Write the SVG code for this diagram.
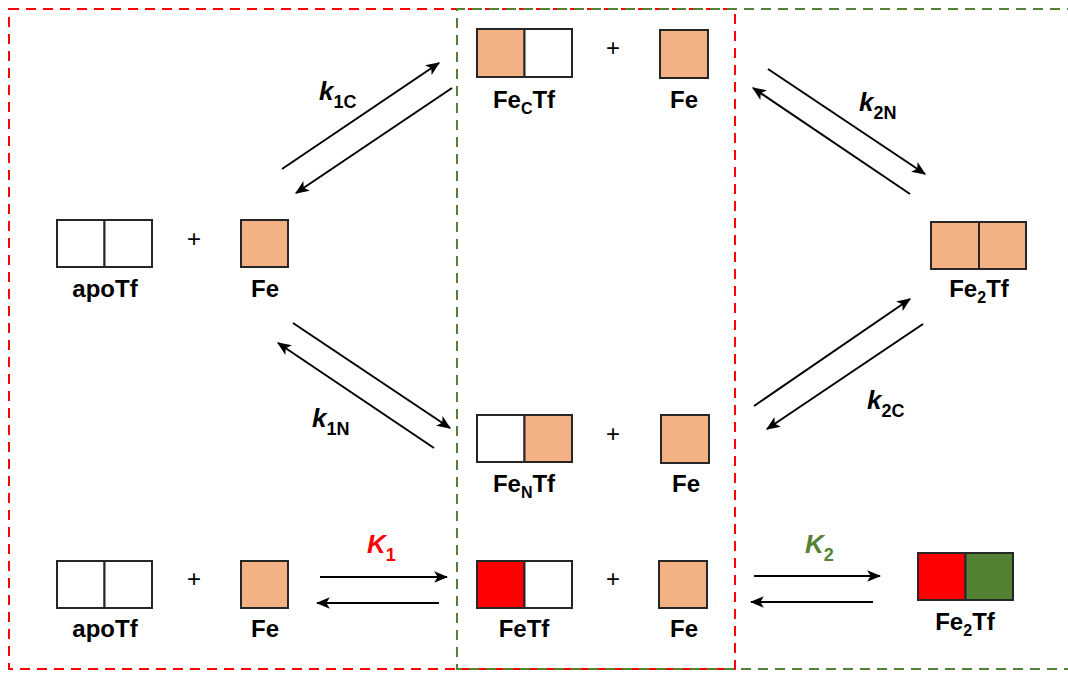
<svg xmlns="http://www.w3.org/2000/svg" width="1068" height="673" viewBox="0 0 1068 673">
<style>
.box{stroke:#262626;stroke-width:2;fill:#fff}
.or{fill:#F4B183}
.rd{fill:#FF0000}
.gr{fill:#548235}
.lbl{font-family:"Liberation Sans",Arial,sans-serif;font-weight:bold;font-size:24px;fill:#000;text-anchor:middle}
.sub{font-size:16px}
.plus{font-family:"Liberation Sans",Arial,sans-serif;font-size:24px;fill:#000;text-anchor:middle}
.k{font-family:"Liberation Sans",Arial,sans-serif;font-weight:bold;font-style:italic;font-size:26px}
.ks{font-style:normal;font-size:18px}
.arr{stroke:#000;stroke-width:2;fill:none;marker-end:url(#ah)}
</style>
<defs>
<marker id="ah" viewBox="0 0 12 10" refX="11" refY="5" markerWidth="7" markerHeight="6" orient="auto" markerUnits="strokeWidth">
<path d="M0,0 L12,5 L0,10 L3,5 z" fill="#000"/>
</marker>
</defs>
<g id="frames" fill="none" stroke-width="2">
<rect id="red-frame" x="9" y="9" width="726" height="660" stroke="#FF0000" stroke-dasharray="10,7"/>
<path id="green-frame" d="M1072,9 H457 V669 H1072" stroke="#548235" stroke-dasharray="10,7" stroke-dashoffset="5"/>
</g>
<g id="connectors">
<line class="arr" x1="282" y1="169" x2="439" y2="63"/>
<line class="arr" x1="452" y1="88" x2="296" y2="193"/>
<line class="arr" x1="768" y1="69" x2="925" y2="174"/>
<line class="arr" x1="910" y1="194" x2="753" y2="88"/>
<line class="arr" x1="293" y1="323" x2="450" y2="428"/>
<line class="arr" x1="434" y1="448" x2="278" y2="343"/>
<line class="arr" x1="754" y1="406" x2="910" y2="299"/>
<line class="arr" x1="923" y1="324" x2="767" y2="429"/>
<line class="arr" x1="320" y1="577" x2="447" y2="577"/>
<line class="arr" x1="439" y1="603" x2="317" y2="603"/>
<line class="arr" x1="754" y1="576" x2="880" y2="576"/>
<line class="arr" x1="873" y1="602" x2="751" y2="602"/>
<text class="k" x="319" y="100">k<tspan class="ks" dy="8">1C</tspan></text>
<text class="k" x="859" y="111">k<tspan class="ks" dy="8">2N</tspan></text>
<text class="k" x="312" y="427">k<tspan class="ks" dy="8">1N</tspan></text>
<text class="k" x="867" y="409">k<tspan class="ks" dy="8">2C</tspan></text>
<text class="k" x="367" y="553" fill="#FF0000">K<tspan class="ks" dy="8">1</tspan></text>
<text class="k" x="805" y="553" fill="#548235">K<tspan class="ks" dy="8">2</tspan></text>
</g>
<g id="apoTf-top">
<rect class="box" x="57" y="220" width="47.5" height="47"/>
<rect class="box" x="104.5" y="220" width="47.5" height="47"/>
<text class="lbl" x="105" y="297">apoTf</text>
</g>
<text class="plus" x="194" y="247">+</text>
<g id="Fe-left-top">
<rect class="box or" x="241" y="220" width="47" height="47"/>
<text class="lbl" x="265" y="297">Fe</text>
</g>
<g id="FeCTf">
<rect class="box or" x="477" y="29" width="47.5" height="48"/>
<rect class="box" x="524.5" y="29" width="47.5" height="48"/>
<text class="lbl" x="524" y="108">Fe<tspan class="sub" dy="6">C</tspan><tspan dy="-6">Tf</tspan></text>
</g>
<text class="plus" x="613" y="56">+</text>
<g id="Fe-top">
<rect class="box or" x="660" y="30" width="48" height="48"/>
<text class="lbl" x="684" y="108">Fe</text>
</g>
<g id="Fe2Tf-right">
<rect class="box or" x="931" y="222" width="48" height="47"/>
<rect class="box or" x="979" y="222" width="47" height="47"/>
<text class="lbl" x="979" y="297">Fe<tspan class="sub" dy="6">2</tspan><tspan dy="-6">Tf</tspan></text>
</g>
<g id="FeNTf">
<rect class="box" x="477" y="415" width="47.5" height="47"/>
<rect class="box or" x="524.5" y="415" width="47.5" height="47"/>
<text class="lbl" x="524" y="492">Fe<tspan class="sub" dy="6">N</tspan><tspan dy="-6">Tf</tspan></text>
</g>
<text class="plus" x="613" y="442">+</text>
<g id="Fe-mid">
<rect class="box or" x="661" y="415" width="48" height="48"/>
<text class="lbl" x="686" y="492">Fe</text>
</g>
<g id="apoTf-bottom">
<rect class="box" x="57" y="561" width="47.5" height="47"/>
<rect class="box" x="104.5" y="561" width="47.5" height="47"/>
<text class="lbl" x="105" y="637">apoTf</text>
</g>
<text class="plus" x="194" y="587">+</text>
<g id="Fe-left-bottom">
<rect class="box or" x="241" y="561" width="47" height="47"/>
<text class="lbl" x="265" y="637">Fe</text>
</g>
<g id="FeTf">
<rect class="box rd" x="477" y="561" width="47.5" height="47"/>
<rect class="box" x="524.5" y="561" width="47.5" height="47"/>
<text class="lbl" x="524" y="637">FeTf</text>
</g>
<text class="plus" x="613" y="587">+</text>
<g id="Fe-bottom">
<rect class="box or" x="659" y="561" width="48" height="47"/>
<text class="lbl" x="684" y="637">Fe</text>
</g>
<g id="Fe2Tf-bottom">
<rect class="box rd" x="918" y="553" width="47.5" height="47"/>
<rect class="box gr" x="965.5" y="553" width="47.5" height="47"/>
<text class="lbl" x="965" y="630">Fe<tspan class="sub" dy="6">2</tspan><tspan dy="-6">Tf</tspan></text>
</g>
</svg>
